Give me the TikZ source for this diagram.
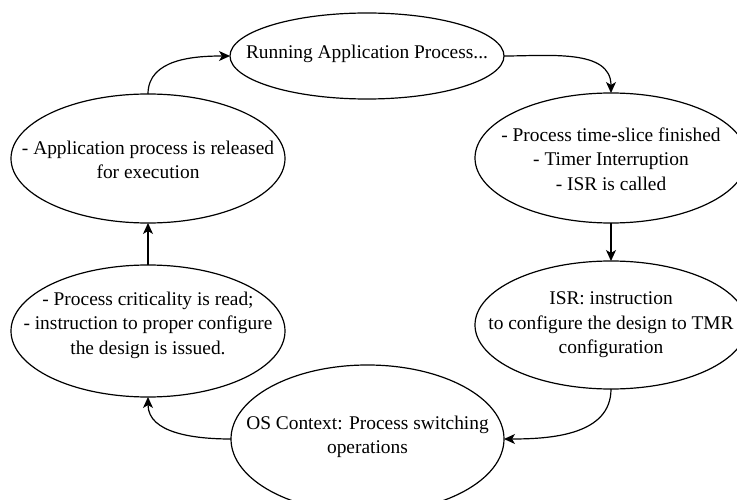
\documentclass[tikz,border=0pt]{standalone}
\usepackage{fontspec}
\setmainfont{Liberation Serif}
\usetikzlibrary{shapes.geometric,arrows.meta}
\begin{document}
\begin{tikzpicture}[x=1pt,y=-1pt,
  state/.style={ellipse,draw,line width=1.2pt,inner sep=0pt,outer sep=0pt},
  txt/.style={align=center,font=\fontsize{19.4}{24.5}\selectfont,inner sep=0pt},
  flow/.style={line width=1.2pt,-{Stealth[length=11pt,width=10pt,inset=3pt]}}]
  \useasboundingbox (0,0) rectangle (737,500);
  % states of the scheduling cycle
  \node[state,minimum width=274,minimum height=86] (run) at (367,56) {};
  \node[state,minimum width=274,minimum height=129] (rel) at (148,158.5) {};
  \node[state,minimum width=272,minimum height=130] (isr) at (611,158) {};
  \node[state,minimum width=272,minimum height=128] (tmr) at (611,325) {};
  \node[state,minimum width=274,minimum height=132] (crit) at (148,331) {};
  \node[state,minimum width=273,minimum height=148] (os) at (367.5,439) {};
  % their texts
  \node[txt] (trun) at (367,54) {Running Application Process...};
  \node[txt] (trel) at (148,160) {- Application process is released\\for execution};
  \node[txt] (tisr) at (611,159) {- Process time-slice finished\\- Timer Interruption\\- ISR is called};
  \node[txt] (ttmr) at (611,325) {ISR: instruction\\to configure the design to TMR\\configuration};
  \node[txt] (tcrit) at (148,325) {- Process criticality is read;\\- instruction to proper configure\\the design is issued.};
  \node[txt] (tos) at (367.5,437) {OS Context: Process switching\\operations};
  % transitions
  \draw[flow] (rel.north) to[out=90,in=180] (run.west);
  \draw[flow] (run.east) to[out=0,in=90] (isr.north);
  \draw[flow] (isr.south) -- (tmr.north);
  \draw[flow] (tmr.south) to[out=-90,in=0] (os.east);
  \draw[flow] (os.west) to[out=180,in=-90] (crit.south);
  \draw[flow] (crit.north) -- (rel.south);
\end{tikzpicture}
\end{document}
